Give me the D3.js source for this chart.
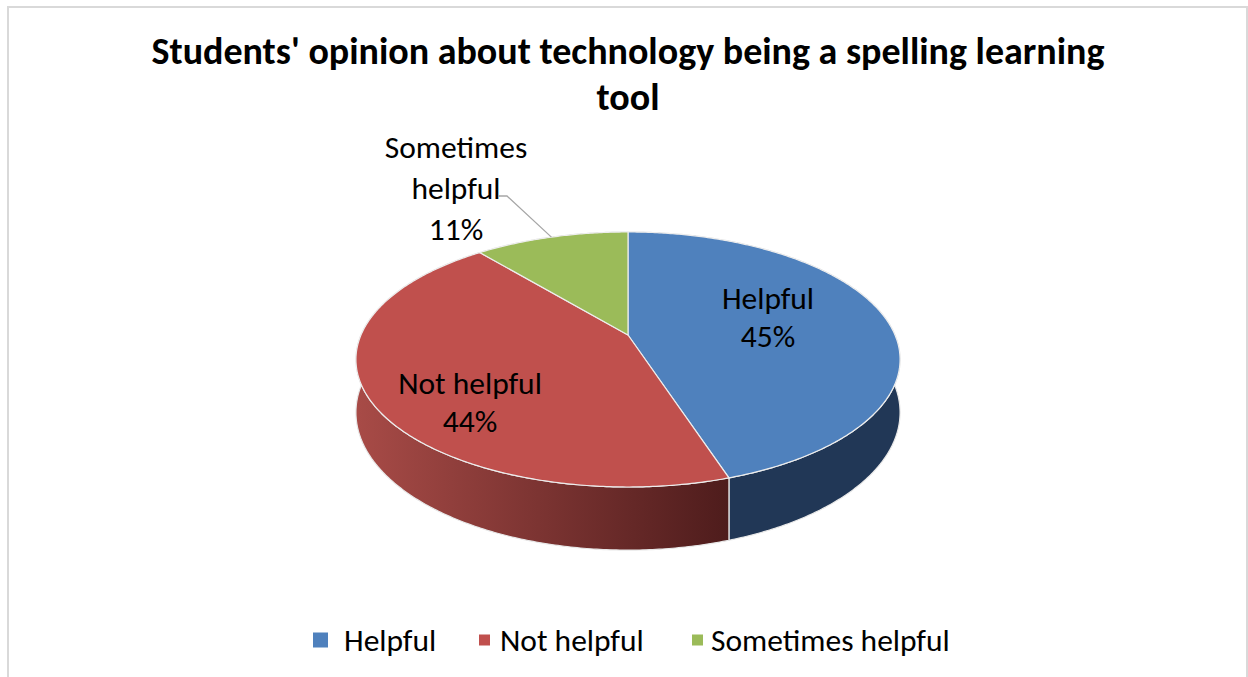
<!DOCTYPE html>
<html>
<head>
<meta charset="utf-8">
<script src="https://cdn.jsdelivr.net/npm/d3@7"></script>
<style>
  html, body { margin: 0; padding: 0; background: #fff; }
  svg { display: block; }
  text { font-family: Carlito, Calibri, Lato, "Noto Sans", sans-serif; fill: #000; }
</style>
</head>
<body>
<svg id="chart" width="1248" height="677"></svg>
<script>
// Chart content
const titleLines = ["Students' opinion about technology being a spelling learning", "tool"];
const categories = ["Helpful", "Not helpful", "Sometimes helpful"];
const values = [45, 44, 11];
const topColors = ["#4F81BD", "#C0504D", "#9BBB59"];
const wallColors = [["#1F3350", "#213756"], ["#A84B47", "#4E1C1C"], ["#6E8A3C", "#5A7230"]];

const svg = d3.select("#chart");

// Chart frame
svg.append("rect")
  .attr("x", 8).attr("y", 7).attr("width", 1239).attr("height", 690)
  .attr("fill", "#fff").attr("stroke", "#D9D9D9").attr("stroke-width", 2);

// Title
svg.append("text")
  .attr("x", 628).attr("text-anchor", "middle")
  .style("font-weight", "bold").style("font-size", "38px")
  .selectAll("tspan").data(titleLines).join("tspan")
  .attr("x", 628).attr("y", (d, i) => 64 + i * 46)
  .text(d => d);

// Perspective projection of a tilted disc: theta measured clockwise from the back
const cx = 628, cy = 335;      // projected centre of the disc
const A = 267, B = 122.8;      // horizontal / depth scales
const k = 0.192;               // perspective strength
const depth = 51;              // thickness of the disc
function proj(theta, drop) {
  const x = Math.sin(theta), y = -Math.cos(theta);
  const w = 1 - k * y;
  return [cx + A * x / w, cy + B * y / w + (drop || 0) / w];
}
function arcPoints(a0, a1, drop) {
  const n = Math.max(2, Math.ceil((a1 - a0) / 0.01));
  return d3.range(n + 1).map(i => proj(a0 + (a1 - a0) * i / n, drop));
}

const pie = d3.pie().sort(null).value(d => d)(values);

const defs = svg.append("defs");
pie.forEach((p, i) => {
  const g = defs.append("linearGradient")
    .attr("id", "wall" + i).attr("gradientUnits", "userSpaceOnUse")
    .attr("x1", cx - A * 1.02).attr("x2", proj(Math.PI * 0.9, 0)[0]).attr("y1", 0).attr("y2", 0);
  g.append("stop").attr("offset", 0).attr("stop-color", wallColors[i][0]);
  g.append("stop").attr("offset", 1).attr("stop-color", wallColors[i][1]);
});

const line = d3.line();
const pieG = svg.append("g");

// Outer walls (back portions end up hidden beneath the top faces)
const wallOrder = [2, 0, 1];
wallOrder.forEach(i => {
  const p = pie[i];
  const top = arcPoints(p.startAngle, p.endAngle, 0);
  const bottom = arcPoints(p.startAngle, p.endAngle, depth).reverse();
  pieG.append("path")
    .attr("d", line(top.concat(bottom)) + "Z")
    .attr("fill", `url(#wall${i})`)
    .attr("stroke", "#E8E8E8").attr("stroke-width", 1.2)
    .attr("stroke-linejoin", "round");
});

// Top faces
pie.forEach((p, i) => {
  const pts = [[cx, cy]].concat(arcPoints(p.startAngle, p.endAngle, 0));
  pieG.append("path")
    .attr("d", line(pts) + "Z")
    .attr("fill", topColors[i])
    .attr("stroke", "#EDEDED").attr("stroke-width", 1.2)
    .attr("stroke-linejoin", "round");
});

// Data labels
const pct = v => Math.round(v / d3.sum(values) * 100) + "%";
const labelSize = "31.5px";
function label(lines, x, y0, gap) {
  svg.append("text").attr("text-anchor", "middle").style("font-size", labelSize)
    .selectAll("tspan").data(lines).join("tspan")
    .attr("x", x).attr("y", (d, i) => y0 + i * gap).text(d => d);
}
label([categories[0], pct(values[0])], 768, 309, 38);
label(["Not helpful", pct(values[1])], 470, 394, 38);
label(["Sometimes", "helpful", pct(values[2])], 456, 158, 41);

// Leader line for the small slice
const mid2 = (pie[2].startAngle + pie[2].endAngle) / 2;
const anchor = proj(mid2, 0);
svg.append("path")
  .attr("d", line([[498, 196], [507, 196], anchor]))
  .attr("fill", "none").attr("stroke", "#A6A6A6").attr("stroke-width", 1.3);

// Legend
const legendX = [313, 479, 692];
const legendTextX = [344, 500, 711];
const swatch = [15, 11, 11];
const lg = svg.append("g");
categories.forEach((c, i) => {
  lg.append("rect")
    .attr("x", legendX[i]).attr("y", 640 - swatch[i] / 2)
    .attr("width", swatch[i]).attr("height", swatch[i])
    .attr("fill", topColors[i]);
  lg.append("text").attr("x", legendTextX[i]).attr("y", 651)
    .style("font-size", labelSize).text(c);
});
</script>
</body>
</html>
